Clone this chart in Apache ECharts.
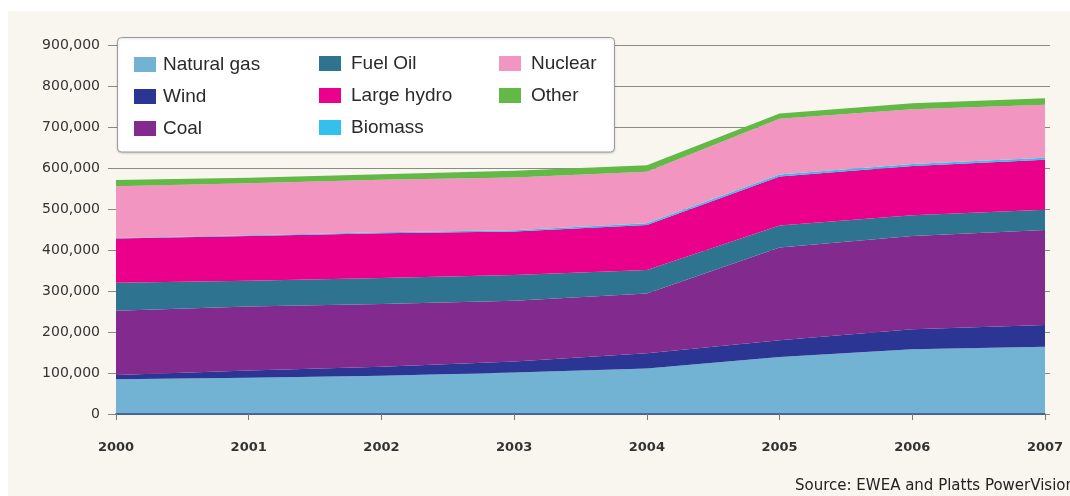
<!DOCTYPE html>
<html>
<head>
<meta charset="utf-8">
<script src="https://cdn.jsdelivr.net/npm/echarts@6/dist/echarts.min.js"></script>
<style>
html,body{margin:0;padding:0;background:#ffffff;}
#chart{width:1070px;height:496px;}
</style>
</head>
<body>
<div id="chart"></div>
<script>
var years = ['2000','2001','2002','2003','2004','2005','2006','2007'];
var yTicks = {min: 0, max: 900000, interval: 100000};

var naturalGas = [85000, 88500, 93000, 101000, 111000, 139000, 158000, 164000];
var wind       = [10000, 17500, 22000, 27000, 37000, 41000, 49000, 53000];
var coal       = [157000, 156000, 153000, 148000, 146000, 226000, 227000, 232000];
var fuelOil    = [68000, 63000, 64000, 63000, 57000, 54000, 51000, 49000];
var largeHydro = [108000, 109000, 109000, 106000, 110000, 119000, 120000, 122000];
var biomass    = [1500, 2000, 2500, 3000, 4000, 5000, 5000, 5000];
var nuclear    = [126000, 127000, 128000, 129000, 126000, 136000, 133000, 129000];
var other      = [15000, 13000, 13000, 16000, 16000, 13000, 15000, 16000];

var seriesDefs = [
  {name: 'Natural gas', data: naturalGas, color: '#72b3d3'},
  {name: 'Wind',        data: wind,       color: '#2b3594'},
  {name: 'Coal',        data: coal,       color: '#822a8e'},
  {name: 'Fuel Oil',    data: fuelOil,    color: '#2e7490'},
  {name: 'Large hydro', data: largeHydro, color: '#ea008a'},
  {name: 'Biomass',     data: biomass,    color: '#33c0ec'},
  {name: 'Nuclear',     data: nuclear,    color: '#f295c0'},
  {name: 'Other',       data: other,      color: '#63b946'}
];
var sourceText = 'Source: EWEA and Platts PowerVision';

var chart = echarts.init(document.getElementById('chart'));

var legendText = {fontFamily: 'Liberation Sans', fontSize: 19, color: '#2a2a2a', lineHeight: 17};
function mkLegend(names, left, top, pad) {
  return {
    orient: 'vertical', left: left, top: top, itemWidth: 22, itemHeight: 15, itemGap: 13,
    icon: 'rect', selectedMode: false, data: names,
    textStyle: Object.assign({padding: [0, 0, 0, pad]}, legendText), z: 20
  };
}

var option = {
  backgroundColor: '#ffffff',
  animation: false,
  color: seriesDefs.map(function(s){return s.color;}),
  graphic: [
    {type: 'rect', z: -10, silent: true, shape: {x: 8, y: 11, width: 1062, height: 485}, style: {fill: '#f8f6ef'}},
    {type: 'rect', z: 10, silent: true, shape: {x: 117.5, y: 37.5, width: 497, height: 114.5, r: 4},
     style: {fill: '#ffffff', stroke: '#9a9a9a', lineWidth: 1, shadowBlur: 2, shadowColor: 'rgba(0,0,0,0.15)', shadowOffsetY: 1}}
  ],
  title: {
    text: sourceText, left: 790, top: 474,
    textStyle: {fontFamily: 'DejaVu Sans', fontSize: 15, fontWeight: 'normal', color: '#222'}
  },
  legend: [
    mkLegend(['Natural gas','Wind','Coal'], 129, 50, 2),
    mkLegend(['Fuel Oil','Large hydro','Biomass'], 314, 49, 5),
    mkLegend(['Nuclear','Other'], 494, 49, 5)
  ],
  grid: {left: 116, right: 25, top: 45, bottom: 82, containLabel: false},
  xAxis: {
    type: 'category', data: years, boundaryGap: false,
    axisLine: {show: true, lineStyle: {color: '#36548c', width: 1.5}},
    axisTick: {show: true, length: 6, lineStyle: {color: '#777'}},
    axisLabel: {margin: 27, fontFamily: 'DejaVu Sans', fontSize: 13, fontWeight: 'bold', color: '#333'},
    z: 5
  },
  yAxis: [
    {
      type: 'value', min: yTicks.min, max: yTicks.max, interval: yTicks.interval,
      axisLine: {show: false},
      axisTick: {show: true, length: 8, lineStyle: {color: '#8a8a8a'}},
      splitLine: {show: true, lineStyle: {color: '#8a8a8a', width: 1}},
      axisLabel: {margin: 16, fontFamily: 'DejaVu Sans', fontSize: 14, color: '#333',
        formatter: function(v){ return v.toLocaleString('en-US'); }}
    },
    {
      type: 'value', position: 'right', min: yTicks.min, max: yTicks.max, interval: yTicks.interval,
      axisLine: {show: false},
      axisTick: {show: true, length: 5, lineStyle: {color: '#8a8a8a'}},
      splitLine: {show: false}, axisLabel: {show: false}
    }
  ],
  series: seriesDefs.map(function(s){
    return {
      name: s.name, type: 'line', stack: 'total', data: s.data,
      showSymbol: false, symbol: 'none',
      lineStyle: {width: 0}, areaStyle: {color: s.color, opacity: 1},
      itemStyle: {color: s.color}, z: 3
    };
  })
};
chart.setOption(option);
</script>
</body>
</html>
